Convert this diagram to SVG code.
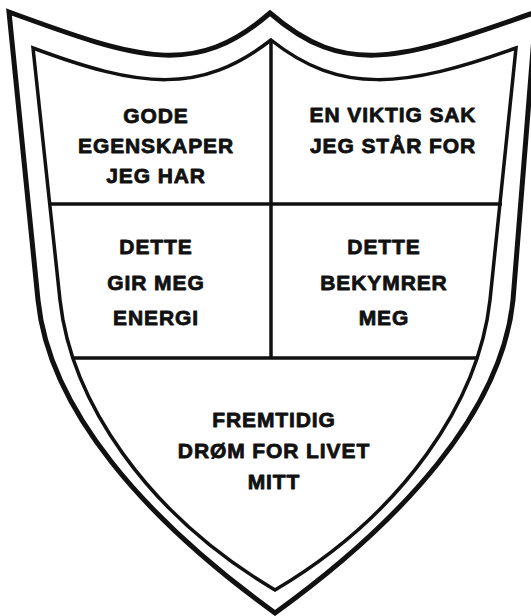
<svg xmlns="http://www.w3.org/2000/svg" width="531" height="616" viewBox="0 0 531 616">
<style>
.o{fill:none;stroke:#111;stroke-width:5;stroke-linejoin:miter}
.i{fill:none;stroke:#111;stroke-width:3.5;stroke-linejoin:miter}
.d{fill:none;stroke:#111;stroke-width:3.5}
text{font-family:"Liberation Sans",Arial,sans-serif;font-weight:bold;font-size:21px;letter-spacing:0.9px;fill:#111;stroke:#111;stroke-width:0.8;stroke-linejoin:round;text-anchor:middle}
</style>
<rect width="531" height="616" fill="#fff"/>
<g id="shield">
<path class="o" d="M9,12 C140,60 195,78 270,13 C345,78 400,60 536,12 L513,300 C502,410 405,519 275,613 C145,519 49,410 38,300 Z"/>
<path class="i" d="M33,48 C140,88 200,95 271,40 C340,95 405,88 516,48 L490,300 C479,400 405,513 275,590 C145,513 71,400 60,300 Z"/>
</g>
<g id="connectors">
<line class="d" x1="271" y1="40" x2="271" y2="358"/>
<line class="d" x1="49" y1="204" x2="502" y2="204"/>
<line class="d" x1="73" y1="358" x2="478" y2="358"/>
</g>
<g id="node-gode">
<text x="156" y="123">GODE</text>
<text x="156" y="153">EGENSKAPER</text>
<text x="156" y="183">JEG HAR</text>
</g>
<g id="node-sak">
<text x="393" y="122">EN VIKTIG SAK</text>
<text x="393" y="153">JEG STÅR FOR</text>
</g>
<g id="node-energi">
<text x="156" y="254">DETTE</text>
<text x="156" y="290">GIR MEG</text>
<text x="156" y="325">ENERGI</text>
</g>
<g id="node-bekymrer">
<text x="384" y="254">DETTE</text>
<text x="384" y="290">BEKYMRER</text>
<text x="384" y="325">MEG</text>
</g>
<g id="node-drom">
<text x="274" y="427">FREMTIDIG</text>
<text x="274" y="458">DRØM FOR LIVET</text>
<text x="274" y="489">MITT</text>
</g>
</svg>
